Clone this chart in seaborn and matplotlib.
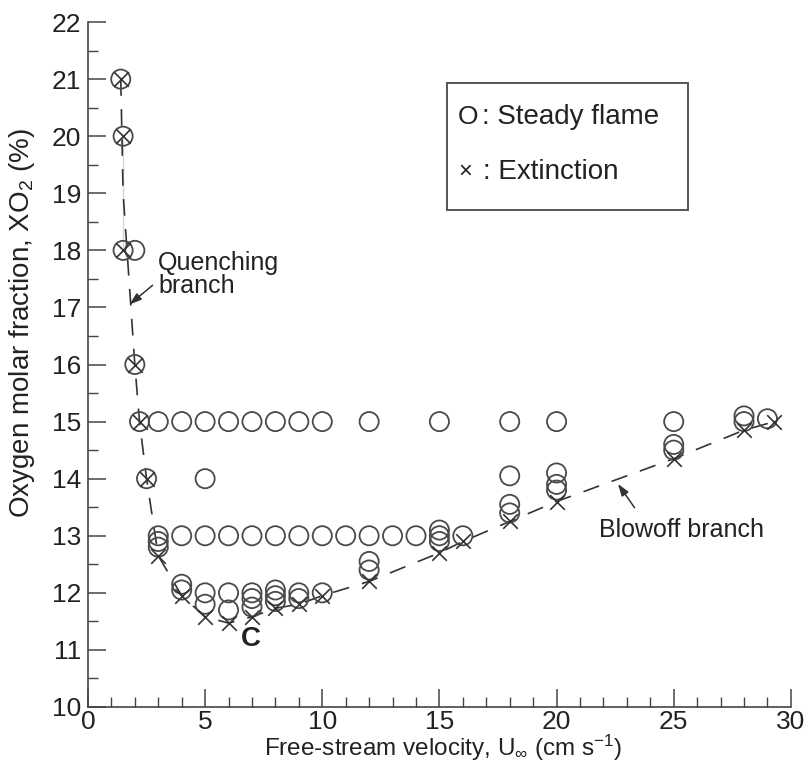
import matplotlib
matplotlib.use("Agg")
import matplotlib.pyplot as plt
import seaborn as sns
import pandas as pd
from matplotlib.ticker import MultipleLocator
from matplotlib.patches import Rectangle

# ---- data ----
steady_x = [1.4, 1.5, 1.5, 2.0, 2.0, 2.2, 2.5,
            3, 4, 5, 6, 7, 8, 9, 10, 12, 15, 18, 20, 25, 28, 28, 29,
            5, 18, 20, 20, 20,
            3, 3, 3, 4, 5, 6, 7, 8, 9, 10, 11, 12, 13, 14, 15, 15, 15, 16,
            4, 4, 5, 5, 6, 6, 7, 7, 7, 8, 8, 8, 9, 9, 10,
            12, 12, 18, 18, 25, 25]
steady_y = [21, 20, 18, 18, 16, 15, 14,
            15, 15, 15, 15, 15, 15, 15, 15, 15, 15, 15, 15, 15, 15.1, 15.0, 15.05,
            14, 14.05, 14.1, 13.9, 13.8,
            13.0, 12.9, 12.8, 13, 13, 13, 13, 13, 13, 13, 13, 13, 13, 13, 13.1, 13.0, 12.9, 13.0,
            12.15, 12.05, 12.0, 11.8, 12.0, 11.7, 12.0, 11.9, 11.75, 12.05, 11.95, 11.85, 12.0, 11.9, 12.0,
            12.55, 12.4, 13.55, 13.4, 14.6, 14.5]

ext_x = [1.4, 1.5, 1.5, 2.0, 2.2, 2.5, 3.0, 4, 5, 6, 7, 8, 9, 10,
         12, 15, 16, 18, 20, 25, 28, 29.3]
ext_y = [21, 20, 18, 16, 15, 14, 12.65, 11.95, 11.58, 11.47, 11.58, 11.73, 11.8, 11.95,
         12.2, 12.7, 12.9, 13.25, 13.6, 14.35, 14.85, 15.0]

x_ticks = [0, 5, 10, 15, 20, 25, 30]
y_ticks = list(range(10, 23))

steady = pd.DataFrame({"U": steady_x, "XO2": steady_y})
ext = pd.DataFrame({"U": ext_x, "XO2": ext_y})

sns.set_theme(style="ticks")
plt.rcParams["font.family"] = ["Liberation Sans", "DejaVu Sans"]
plt.rcParams["mathtext.default"] = "regular"

ink = "#222222"
fig = plt.figure(figsize=(8.07, 7.63), dpi=100)
ax = fig.add_axes([0.109, 0.0734, 0.871, 0.8977])

sns.lineplot(data=ext, x="U", y="XO2", sort=False, ax=ax, color="#333333",
             lw=1.2, dashes=False, linestyle=(0, (10, 8)), zorder=1)
sns.scatterplot(data=steady, x="U", y="XO2", ax=ax, marker="o", s=190,
                facecolor="none", edgecolor="#4a4a4a", linewidth=1.3, zorder=2)
sns.scatterplot(data=ext, x="U", y="XO2", ax=ax, marker="x", s=110,
                color="#333333", linewidth=1.2, zorder=3)

ax.set_xlim(0, 30)
ax.set_ylim(10, 22)
ax.set_xticks(x_ticks)
ax.set_yticks(y_ticks)
ax.xaxis.set_minor_locator(MultipleLocator(1))
ax.yaxis.set_minor_locator(MultipleLocator(0.5))
ax.tick_params(which="major", direction="in", length=13, width=1.1, colors="#444444",
               labelsize=19, labelcolor=ink)
ax.tick_params(axis="x", which="major", pad=2)
ax.tick_params(axis="y", which="major", pad=5)
ax.tick_params(which="minor", direction="in", length=7, width=1.0, colors="#444444")
ax.spines["top"].set_visible(False)
ax.spines["right"].set_visible(False)
for s in ("left", "bottom"):
    ax.spines[s].set_color("#444444")
    ax.spines[s].set_linewidth(1.2)

ax.set_xlabel(r"Free-stream velocity, U$_\infty$ (cm s$^{-1}$)", fontsize=17.5, color=ink)
ax.xaxis.set_label_coords(0.505, -0.037)
ax.set_ylabel(r"Oxygen molar fraction, XO$_2$ (%)", fontsize=20, color=ink)
ax.yaxis.set_label_coords(-0.072, 0.56)

# annotations
ax.text(3.0, 17.58, "Quenching\nbranch", fontsize=18, color=ink, ha="left", va="center",
        linespacing=0.95)
ax.annotate("", xy=(1.68, 17.02), xytext=(2.85, 17.42),
            arrowprops=dict(arrowstyle="-|>,head_length=0.6,head_width=0.2", color="#333333", lw=1.1))
ax.text(21.8, 13.1, "Blowoff branch", fontsize=18, color=ink, ha="left", va="center")
ax.annotate("", xy=(22.55, 13.95), xytext=(23.4, 13.45),
            arrowprops=dict(arrowstyle="-|>,head_length=0.6,head_width=0.2", color="#333333", lw=1.1))
ax.text(6.95, 11.2, "C", fontsize=20, fontweight="bold", color=ink, ha="center", va="center")

# legend box
ax.add_patch(Rectangle((0.511, 0.7255), 0.342, 0.1855, transform=ax.transAxes,
                       facecolor="none", edgecolor="#555555", lw=1.4, zorder=4))
ax.text(0.526, 0.861, "O", transform=ax.transAxes, fontsize=19, color=ink, ha="left", va="center")
ax.text(0.561, 0.861, ": Steady flame", transform=ax.transAxes, fontsize=20, color=ink,
        ha="left", va="center")
ax.text(0.537, 0.781, "\u00d7", transform=ax.transAxes, fontsize=17, color=ink, ha="center", va="center")
ax.text(0.562, 0.781, ": Extinction", transform=ax.transAxes, fontsize=20, color=ink,
        ha="left", va="center")

fig.savefig("out.png", dpi=100)
